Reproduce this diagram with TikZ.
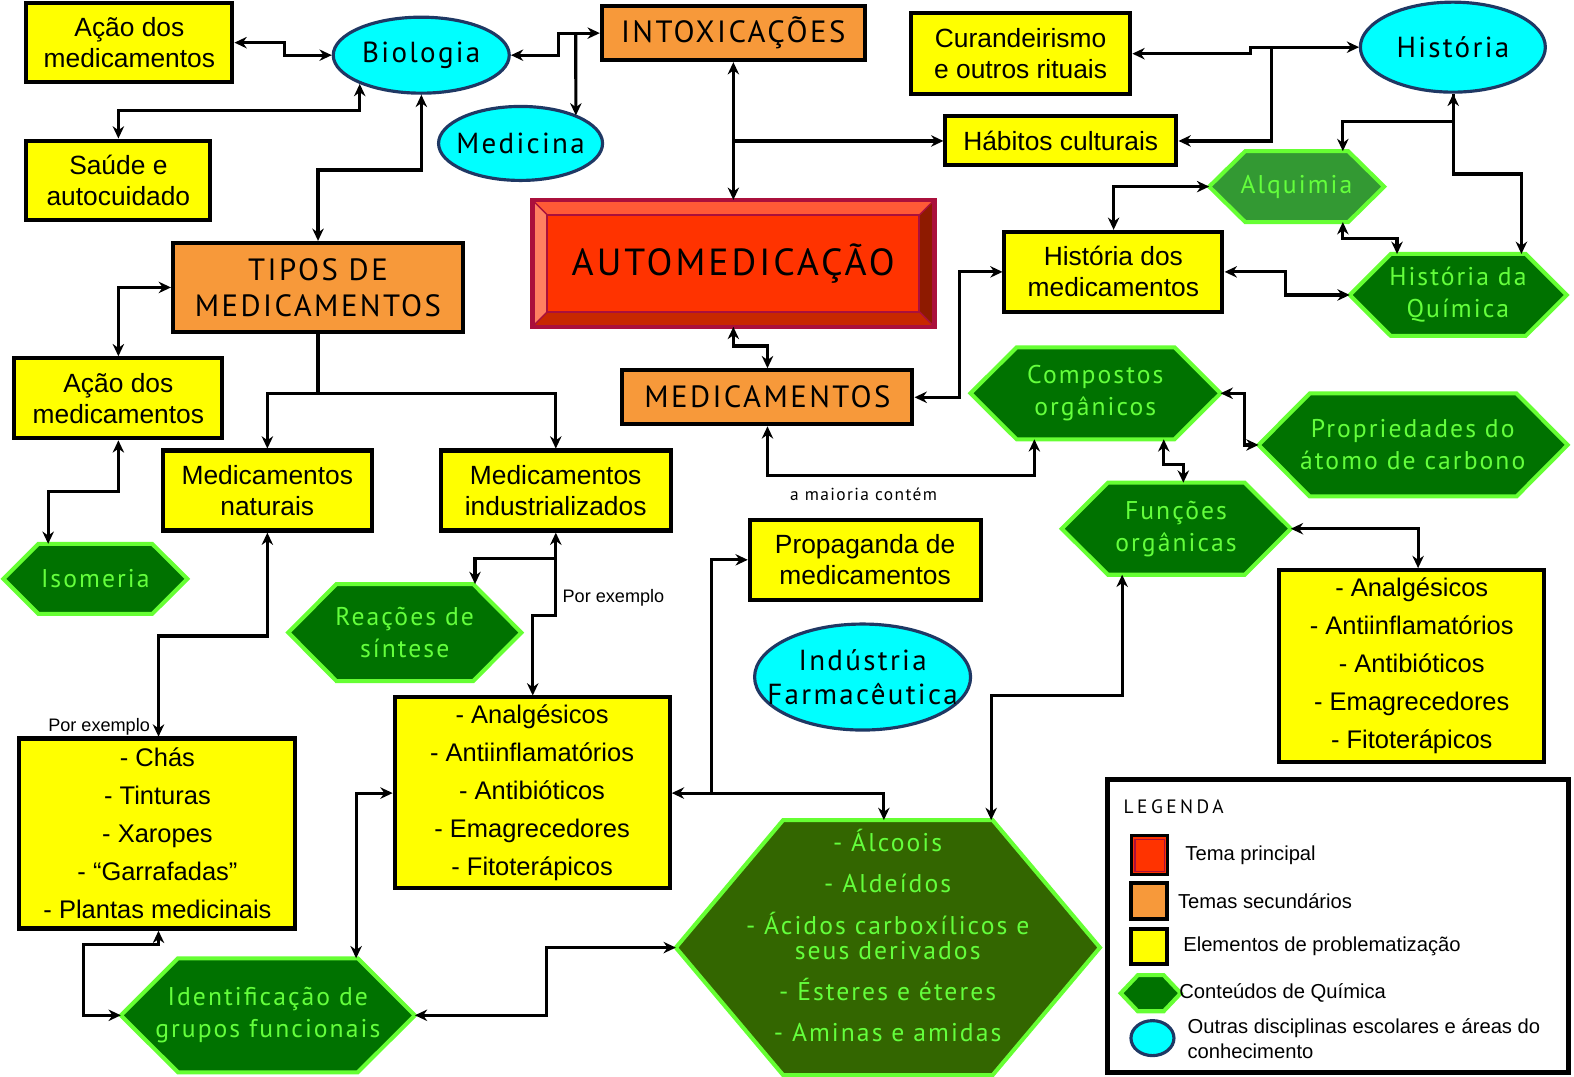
\documentclass[tikz,border=0pt]{standalone}
\usepackage{fontspec}
\setmainfont{Liberation Sans}
\newfontfamily\myriad[LetterSpace=8]{PT Sans}
\newfontfamily\myriadL[LetterSpace=18]{PT Sans}
\usetikzlibrary{arrows.meta,shapes.geometric,calc,positioning,backgrounds}

\definecolor{amareloF}{RGB}{255,255,0}
\definecolor{laranjaF}{RGB}{247,153,58}
\definecolor{cianoF}{RGB}{0,255,255}
\definecolor{azulB}{RGB}{31,56,100}
\definecolor{verdeF}{RGB}{0,114,0}
\definecolor{verdeAlq}{RGB}{51,153,51}
\definecolor{oliva}{RGB}{51,102,0}
\definecolor{verdeB}{RGB}{102,255,51}
\definecolor{verdeT}{RGB}{100,255,60}
\definecolor{vermelho}{RGB}{255,51,0}
\definecolor{carmim}{RGB}{170,16,60}
\definecolor{bevTopo}{RGB}{255,90,54}
\definecolor{bevEsq}{RGB}{255,128,97}
\definecolor{bevDir}{RGB}{142,26,0}
\definecolor{bevBase}{RGB}{200,40,0}

\newcommand\fAm{\fontsize{15}{17.6}\selectfont}
\newcommand\fLista{\fontsize{14.5}{21.6}\selectfont}
\newcommand\fLar{\myriad\fontsize{17.5}{20.5}\selectfont}
\newcommand\fCiano{\myriad\fontsize{16.5}{19.5}\selectfont}
\newcommand\fVerde{\myriad\fontsize{14.6}{18.2}\selectfont}
\newcommand\fGrande{\myriad\fontsize{14.6}{14.4}\selectfont}
\newcommand\fAuto{\myriad\fontsize{21.5}{24}\selectfont}
\newcommand\fPeq{\fontsize{10.3}{12}\selectfont}
\newcommand\fMaioria{\myriad\fontsize{9.9}{12}\selectfont}
\newcommand\fLeg{\fontsize{11.5}{14}\selectfont}

% fundo hexagonal atras de um no retangular: [cor]{no}{recuo}
\newcommand\hexfundo[3][verdeF]{%
  \begin{scope}[on background layer]
    \filldraw[draw=verdeB,line width=2.3pt,fill=#1] (#2.west) -- ($(#2.north west)+(#3,0)$) -- ($(#2.north east)+(-#3,0)$)
      -- (#2.east) -- ($(#2.south east)+(-#3,0)$) -- ($(#2.south west)+(#3,0)$) -- cycle;
  \end{scope}}

\begin{document}
\begin{tikzpicture}[x=0.02cm,y=-0.02cm,>={Stealth[length=7pt,width=6.5pt]},
        seta/.style={->,line width=1.8pt},
        dupla/.style={<->,line width=1.8pt},
        tam/.style 2 args={minimum width=#1*0.02cm,minimum height=#2*0.02cm},
        amarelo/.style={draw,line width=2.3pt,fill=amareloF,font=\fAm,align=center,inner sep=0pt},
        lista/.style={amarelo,font=\fLista},
        laranja/.style={draw,line width=2.3pt,fill=laranjaF,font=\fLar,align=center,inner sep=0pt},
        ciano/.style={ellipse,draw=azulB,line width=1.8pt,fill=cianoF,font=\fCiano,align=center,inner sep=-60pt},
        hexa/.style={rectangle,text=verdeT,font=\fVerde,align=center,inner sep=0pt,outer sep=0pt},
        principal/.style={fill=vermelho,font=\fAuto,inner sep=0pt,outer sep=0pt},
        rotulo/.style={font=\fPeq,inner sep=2pt},
        legtexto/.style={font=\fLeg,inner sep=0pt,align=left}]

    \useasboundingbox (0,0) rectangle (1574,1076);
    \begin{scope}[on background layer]
        \fill[white] (0,0) rectangle (1574,1076);
    \end{scope}

    \begin{scope}[xscale=1.003,yscale=1.003]
    % nos
    \node[amarelo,tam={206}{79}]    (acao1)   at (129,42.5)    {Ação dos\\medicamentos};
    \node[ciano,tam={176}{76}]      (bio)     at (420,55)      {Biologia};
    \node[laranja,tam={263}{54}]    (intox)   at (731,33)      {INTOXICAÇÕES};
    \node[ciano,tam={164}{74}]      (med)     at (519,143)     {Medicina};
    \node[amarelo,tam={184}{79}]    (saude)   at (118,179.5)   {Saúde e\\autocuidado};
    \node[amarelo,tam={219}{81}]    (cur)     at (1017.5,53.5) {Curandeirismo\\e outros rituais};
    \node[ciano,tam={185}{90}]      (hist)    at (1448.5,47)   {História};
    \node[amarelo,tam={231}{49}]    (hab)     at (1057.5,140.5) {Hábitos culturais};
    \node[hexa,tam={175}{71}]       (alq)     at (1292.5,186)  {Alquimia};
    \hexfundo[verdeAlq]{alq}{36}
    \node[principal,tam={402}{127}] (auto)    at (731,262.5)   {AUTOMEDICAÇÃO};
    \node[laranja,tam={290}{89}]    (tipos)   at (317,286.5)   {TIPOS DE\\MEDICAMENTOS};
    \node[amarelo,tam={218}{80}]    (histmed) at (1110,271)    {História dos\\medicamentos};
    \node[hexa,tam={217}{82}]       (quim)    at (1453.5,294)  {História da\\Química};
    \hexfundo{quim}{41}
    \node[amarelo,tam={208}{80}]    (acao2)   at (118,397)     {Ação dos\\medicamentos};
    \node[laranja,tam={290}{54}]    (medic)   at (765,396)     {MEDICAMENTOS};
    \node[hexa,tam={250}{92}]       (comp)    at (1092,392)    {Compostos\\orgânicos};
    \hexfundo{comp}{46}
    \node[hexa,tam={309}{103}]      (prop)    at (1408.5,443.5) {Propriedades do\\átomo de carbono};
    \hexfundo{prop}{51}
    \node[amarelo,tam={209}{80}]    (nat)     at (266.5,489)   {Medicamentos\\naturais};
    \node[amarelo,tam={230}{80}]    (ind)     at (554,489)     {Medicamentos\\industrializados};
    \node[hexa,tam={229}{92}]       (func)    at (1172.5,527)  {Funções\\orgânicas};
    \hexfundo{func}{46}
    \node[hexa,tam={184}{70}]       (iso)     at (95,577)      {Isomeria};
    \hexfundo{iso}{35}
    \node[amarelo,tam={231}{80}]    (propag)  at (862.5,558)   {Propaganda de\\medicamentos};
    \node[hexa,tam={233}{97}]       (rea)     at (403.5,630.5) {Reações de\\síntese};
    \hexfundo{rea}{48}
    \node[ciano,tam={216}{106}]     (indf)    at (860,675)     {Indústria\\Farmacêutica};
    \node[lista,tam={265}{192}]     (listaD)  at (1407.5,664)  {- Analgésicos\\- Antiinflamatórios\\- Antibióticos\\- Emagrecedores\\- Fitoterápicos};
    \node[lista,tam={275}{191}]     (listaM)  at (530.5,790.5) {- Analgésicos\\- Antiinflamatórios\\- Antibióticos\\- Emagrecedores\\- Fitoterápicos};
    \node[lista,tam={276}{190}]     (chas)    at (157,831)     {- Chás\\- Tinturas\\- Xaropes\\- “Garrafadas”\\- Plantas medicinais};
    \node[hexa,tam={294}{114}]      (ident)   at (267,1012)    {Identificação de\\grupos funcionais};
    \hexfundo{ident}{57}
    \node[hexa,tam={424}{255},font=\fGrande] (grande) at (885,944.5)
        {- Álcoois\\[9pt]- Aldeídos\\[9pt]- Ácidos carboxílicos e\\seus derivados\\[9pt]- Ésteres e éteres\\[9pt]- Aminas e amidas\\[-1pt]\mbox{}};
    \hexfundo[oliva]{grande}{107}

    % moldura chanfrada do tema principal
    \fill[bevTopo] (auto.north west) -- (auto.north east) -- ++(-15,15) -- ($(auto.north west)+(15,15)$) -- cycle;
    \fill[bevEsq] (auto.north west) -- ++(15,15) -- ($(auto.south west)+(15,-15)$) -- (auto.south west) -- cycle;
    \fill[bevDir] (auto.north east) -- ++(-15,15) -- ($(auto.south east)+(-15,-15)$) -- (auto.south east) -- cycle;
    \fill[bevBase] (auto.south west) -- ++(15,-15) -- ($(auto.south east)+(-15,-15)$) -- (auto.south east) -- cycle;
    \draw[carmim,line width=1.2pt] ($(auto.north west)+(15,15)$) rectangle ($(auto.south east)+(-15,-15)$);
    \draw[carmim,line width=0.8pt] (auto.north west) -- ++(15,15) (auto.north east) -- ++(-15,15)
        (auto.south west) -- ++(15,-15) (auto.south east) -- ++(-15,-15);
    \draw[carmim,line width=2.5pt] (auto.north west) rectangle (auto.south east);

    % ligacoes
    \draw[dupla] (acao1.east) -- ++(50,0) |- (bio.west);
    \draw[dupla] (bio.205) |- ($(saude.north)+(0,-28)$) -- (saude.north);
    \draw[dupla] (bio.south) -- ++(0,75) -| (tipos.north);
    \draw[dupla] (bio.east) -- ++(47,0) |- (intox.west);
    \draw[seta] ($(intox.west)+(-24,0)$) coordinate (jmed) -- (jmed |- med.26);
    \draw[dupla] (intox.south) -- (auto.north);
    \draw[seta] (intox.south |- hab.west) -- (hab.west);
    \draw[dupla] (cur.east) -- ++(118,0) |- (hist.west);
    \draw[seta] ($(hist.west)+(-87,0)$) |- (hab.east);
    \draw[dupla] (hist.south) -- ++(0,28) -| ($(alq.north)+(46,0)$);
    \draw[seta] (hist.south) -- ++(0,80) -| ($(quim.north)+(63,0)$);
    \draw[dupla] (alq.west) -| (histmed.north);
    \draw[dupla] ($(alq.south)+(46,0)$) -- ++(0,16) -| ($(quim.north)+(-61,0)$);
    \draw[dupla] (histmed.east) -- ++(61,0) |- (quim.west);
    \draw[dupla] (auto.south) -- ++(0,19) -| (medic.north);
    \draw[dupla] (histmed.west) -- ++(-43,0) |- (medic.east);
    \draw[dupla] (medic.south) -- ++(0,49) -| node[pos=0.18,below=6pt,font=\fMaioria,inner sep=0pt] {a maioria contém} ($(comp.south)+(-61,0)$);
    \draw[dupla] (comp.east) -- ++(24,0) |- (prop.west);
    \draw[dupla] ($(comp.south)+(68,0)$) -- ++(0,25) -| ($(func.north)+(7,0)$);
    \draw[dupla] (func.east) -| ($(listaD.north)+(6,0)$);
    \draw[dupla] ($(func.south)+(-54,0)$) -- ++(0,120) -| ($(grande.north)+(103,0)$);
    \draw[dupla] (tipos.west) -| (acao2.north);
    \draw[seta] (tipos.south) -- ++(0,59) -| (nat.north);
    \draw[seta] (tipos.south) -- ++(0,59) -| (ind.north);
    \draw[dupla] (acao2.south) -- ++(0,51) -| ($(iso.north)+(-47,0)$);
    \draw[dupla] (nat.south) -- ++(0,103) -| node[pos=0.95,left=2pt,rotulo] {Por exemplo} ($(chas.north)+(1,0)$);
    \draw[dupla] (ind.south) -- ++(0,83) node[pos=0.78,right=1pt,rotulo] {Por exemplo} -| ($(listaM.north)+(0.5,0)$);
    \draw[seta] ($(ind.south)+(0,26)$) -| ($(rea.north)+(70,0)$);
    \draw[dupla] (listaM.east) -- ++(40,0) |- (propag.west);
    \draw[seta] ($(listaM.east)+(40,0)$) -| ($(grande.north)+(-4,0)$);
    \draw[dupla] ($(chas.south)+(1,0)$) -- ++(0,14) -| ($(ident.west)+(-37,0)$) -- (ident.west);
    \draw[dupla] (listaM.west) -| ($(ident.north)+(88,0)$);
    \draw[dupla] (ident.east) -- ++(131,0) |- (grande.west);

    % legenda
    \node[draw,line width=3pt,tam={461}{293}] (legenda) at (1334,923.5) {};
    \node[anchor=west,inner sep=0pt,font=\myriadL\fontsize{11}{13}\selectfont] (legT) at (1120,804) {LEGENDA};
    \node[draw,line width=1.8pt,fill=vermelho,tam={36}{39}] (lgP) at (1146,852.5) {};
    \draw[carmim,line width=0.8pt] ($(lgP.north west)+(5,5)$) rectangle ($(lgP.south east)+(-5,-5)$);
    \node[laranja,tam={36}{36}] (lgS) at (1146,898.5) {};
    \node[amarelo,tam={36}{35}] (lgE) at (1146,943.5) {};
    \node[hexa,tam={60}{36}] (lgC) at (1147,990) {};
    \hexfundo{lgC}{17}
    \node[ciano,tam={43}{35}] (lgO) at (1149,1035) {};
    \node[legtexto,right=9pt of lgP] {Tema principal};
    \node[legtexto,right=4.5pt of lgS] {Temas secundários};
    \node[legtexto,right=7.5pt of lgE] {Elementos de problematização};
    \node[legtexto,right=-1pt of lgC] {Conteúdos de Química};
    \node[legtexto,right=6.5pt of lgO] {Outras disciplinas escolares e áreas do\\conhecimento};
    \end{scope}
\end{tikzpicture}
\end{document}
